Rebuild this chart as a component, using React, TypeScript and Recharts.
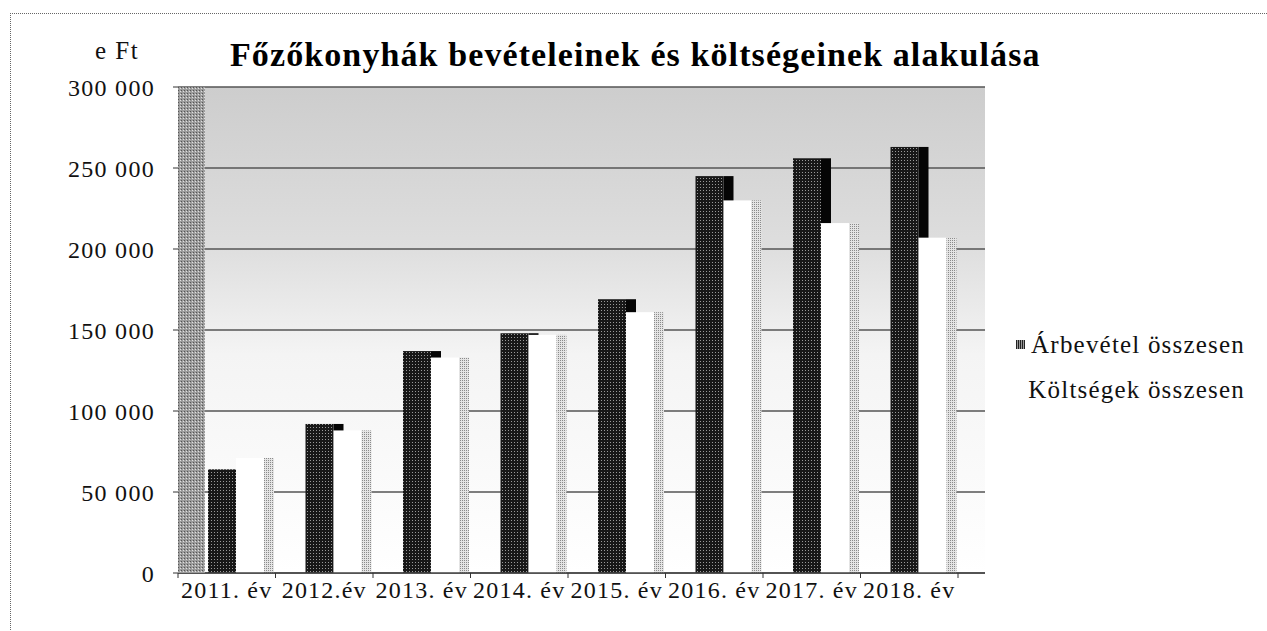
import { Bar, BarChart, CartesianGrid, XAxis, YAxis } from "recharts"

const years = ["2011. év", "2012.év", "2013. év", "2014. év", "2015. év", "2016. év", "2017. év", "2018. év"]
const revenue = [64000, 92000, 137000, 148000, 169000, 245000, 256000, 263000]
const costs = [71000, 88000, 133000, 147000, 161000, 230000, 216000, 207000]
const yTicks = [0, 50000, 100000, 150000, 200000, 250000, 300000]
const seriesNames = ["Árbevétel összesen", "Költségek összesen"]
const title = "Főzőkonyhák bevételeinek és költségeinek alakulása"
const unit = "e Ft"

const data = years.map((year, i) => ({ year, revenue: revenue[i], costs: costs[i] }))

const serif = "'Liberation Serif', 'Times New Roman', serif"
const SHIFT = 9
const DEPTH = 10

const fmt = (v: number) => (v === 0 ? "0" : String(v).replace(/\B(?=(\d{3})+(?!\d))/g, " "))

function RevenueShape(props: any) {
  const { x, y, width, height } = props
  if (height <= 0) return null
  return (
    <g>
      <rect x={x + SHIFT + width} y={y} width={DEPTH} height={height} fill="#050505" />
      <rect x={x + SHIFT} y={y} width={width} height={height} fill="url(#darkDots)" />
    </g>
  )
}

function CostShape(props: any) {
  const { x, y, width, height } = props
  if (height <= 0) return null
  return (
    <g>
      <rect x={x + SHIFT} y={y} width={width} height={height} fill="#ffffff" />
      <rect x={x + SHIFT + width} y={y} width={DEPTH} height={height} fill="url(#greyDots)" />
    </g>
  )
}

function YearTick(props: any) {
  const { x, y, payload, index } = props
  const half = payload.offset || 0
  return (
    <g>
      <line x1={x - half} y1={y - 8} x2={x - half} y2={y - 3} stroke="#333" />
      {index === years.length - 1 && <line x1={x + half} y1={y - 8} x2={x + half} y2={y - 3} stroke="#333" />}
      <text x={x} y={y + 17} textAnchor="middle" fontFamily={serif} fontSize={24} letterSpacing={1.2} fill="#111">
        {payload.value}
      </text>
    </g>
  )
}

export default function App() {
  return (
    <div style={{ position: "absolute", left: 0, top: 0, width: 1267, height: 631, background: "#fff", overflow: "hidden" }}>
      <div
        style={{
          position: "absolute",
          left: 10,
          top: 13,
          width: 1300,
          height: 700,
          borderTop: "1px dotted #666",
          borderLeft: "1px dotted #666",
        }}
      />
      <div
        style={{
          position: "absolute",
          left: 95,
          top: 37,
          fontFamily: serif,
          fontSize: 25,
          letterSpacing: 1.5,
          color: "#111",
        }}
      >
        {unit}
      </div>
      <div
        style={{
          position: "absolute",
          left: 230,
          top: 36,
          fontFamily: serif,
          fontSize: 34,
          fontWeight: "bold",
          letterSpacing: 1.1,
          color: "#000",
          whiteSpace: "nowrap",
        }}
      >
        {title}
      </div>
      <BarChart
        width={1267}
        height={631}
        data={data}
        margin={{ top: 87, right: 282, bottom: 18, left: 78 }}
        barCategoryGap={21}
        barGap={0}
      >
        <defs>
          <linearGradient id="wallGrad" x1="0" y1="0" x2="0" y2="1">
            <stop offset="0%" stopColor="#cdcdcd" />
            <stop offset="33%" stopColor="#dedede" />
            <stop offset="55%" stopColor="#f4f4f4" />
            <stop offset="100%" stopColor="#ffffff" />
          </linearGradient>
          <pattern id="darkDots" width="3" height="3" patternUnits="userSpaceOnUse">
            <rect width="3" height="3" fill="#181818" />
            <rect x="1" y="1" width="1" height="1" fill="#9a9a9a" />
          </pattern>
          <pattern id="greyDots" width="2" height="2" patternUnits="userSpaceOnUse">
            <rect width="2" height="2" fill="#e4e4e4" />
            <rect x="0" y="0" width="1" height="1" fill="#8a8a8a" />
          </pattern>
        </defs>
        <CartesianGrid vertical={false} stroke="#555" strokeWidth={1.5} fill="url(#wallGrad)" />
        <XAxis
          dataKey="year"
          padding={{ left: 0, right: 27 }}
          tickLine={false}
          axisLine={{ stroke: "#444", strokeWidth: 1.5 }}
          tick={<YearTick />}
          interval={0}
          height={40}
          tickSize={8}
          tickMargin={0}
        />
        <YAxis
          domain={[0, 300000]}
          ticks={yTicks}
          tickFormatter={fmt}
          width={100}
          axisLine={false}
          tickLine={{ stroke: "#333" }}
          tickSize={5}
          tickMargin={18}
          tick={{ fontFamily: serif, fontSize: 24, fill: "#111", letterSpacing: 1.3 }}
        />
        <Bar dataKey="revenue" name={seriesNames[0]} barSize={28} shape={<RevenueShape />} isAnimationActive={false} />
        <Bar dataKey="costs" name={seriesNames[1]} barSize={28} shape={<CostShape />} isAnimationActive={false} />
      </BarChart>
      <svg style={{ position: "absolute", left: 178, top: 87 }} width={27} height={486}>
        <defs>
          <pattern id="wallDots" width="3" height="3" patternUnits="userSpaceOnUse">
            <rect width="3" height="3" fill="#9c9c9c" />
            <rect x="0" y="0" width="1" height="1" fill="#555" />
            <rect x="2" y="1" width="1" height="1" fill="#e0e0e0" />
          </pattern>
        </defs>
        <rect width={27} height={486} fill="url(#wallDots)" />
      </svg>
      <div
        style={{
          position: "absolute",
          right: 22,
          top: 322,
          fontFamily: serif,
          fontSize: 25,
          color: "#111",
          textAlign: "right",
          lineHeight: "45px",
          letterSpacing: 1.2,
        }}
      >
        <div>
          <span
            style={{
              display: "inline-block",
              width: 9,
              height: 9,
              marginRight: 6,
              verticalAlign: "middle",
              position: "relative",
              top: -3,
              background: "repeating-linear-gradient(90deg, #222 0 1px, #999 1px 2px)",
            }}
          />
          {seriesNames[0]}
        </div>
        <div>{seriesNames[1]}</div>
      </div>
    </div>
  )
}
